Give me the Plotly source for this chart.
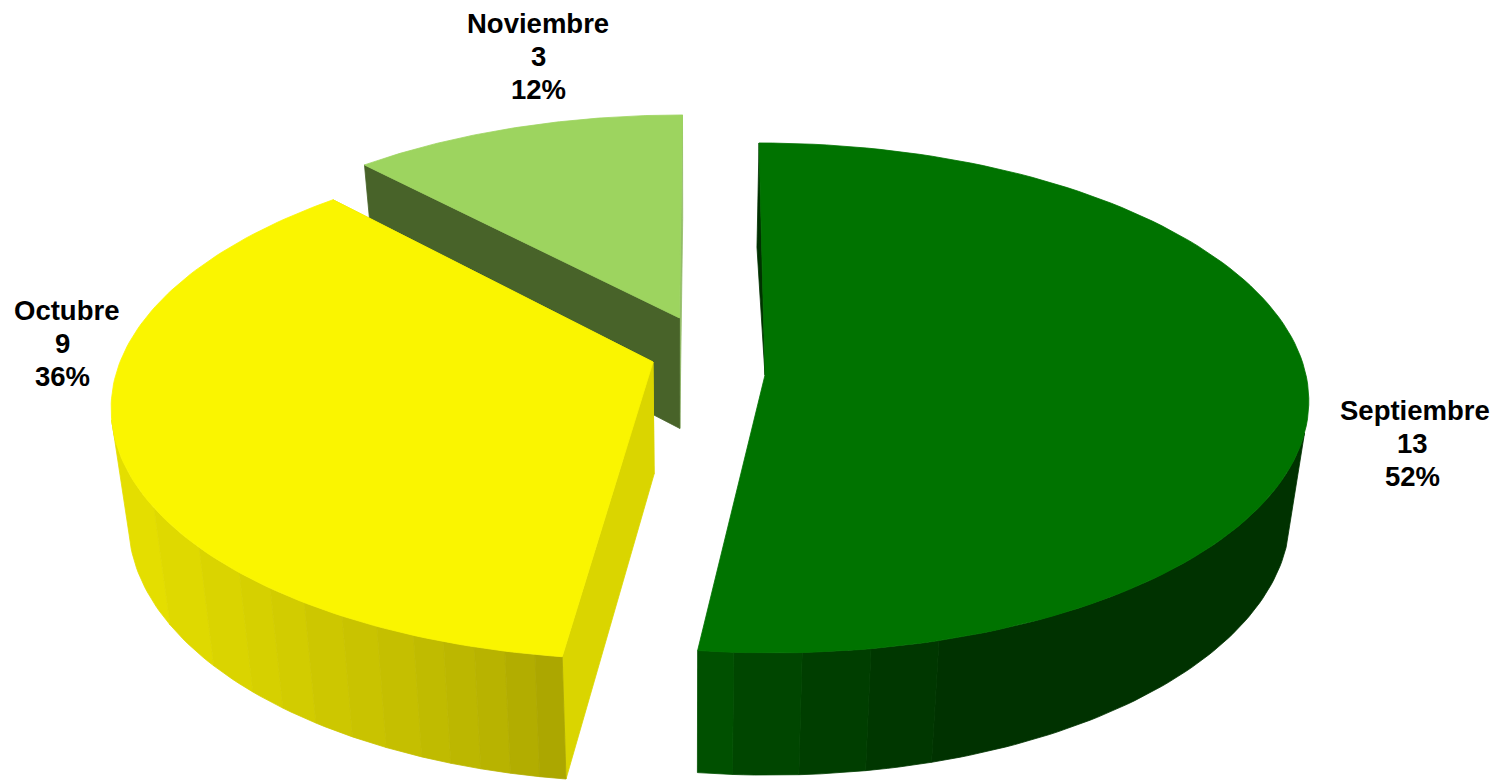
import math
import plotly.graph_objects as go

# data
months = ["Septiembre", "Octubre", "Noviembre"]
counts = [13, 9, 3]
percent_labels = ["52%", "36%", "12%"]

# style
top_colors = ["#007300", "#FAF500", "#9DD45F"]
cut_colors = ["#003200", "#DAD500", "#486329"]
end_cut_colors = ["#003200", "#DAD500", "#93BC68"]
label_xy = [(1415, 443), (66, 343), (538, 56.5)]
value_dx = [-3, -4, 0]
LINE_GAP = 33

# side-wall bands: edges in degrees clockwise from top, and their shade
green_band_deg = [187.2, 183.7, 177.1, 170.4, 163.6, 103.0]
green_band_g = [80, 70, 62, 55, 50]
yellow_band_deg = [187.2, 189.7, 192.5, 195.4, 198.4, 201.4, 205.2, 209.0, 213.4, 217.7, 222.0, 228.4, 237.7, 257.0]
yellow_band_r = [172, 178, 184, 188, 192, 197, 201, 205, 210, 214, 218, 223, 228]

# per-slice view: apex x, apex y, A, shear, B, K
views = [
    (765.0, 375.0, 541.0, 6.5, 252.9, 0.09),
    (653.0, 362.0, 533.0, -9.4, 249.0, 0.163),
    (679.5, 318.0, 510.0, -3.4, 231.0, 0.1376),
]
VX = 690.0
SHRINK = 0.03


def top_pt(i, u, v):
    ax, ay, a, s, b, k = views[i]
    w = 1 - k * v
    return ax + (a * u + s * v) / w, ay + b * v / w


def low(p):
    x, y = p
    return x + (VX - x) * SHRINK, y + 112 + 0.035 * (y - 362)


def rim(i, deg):
    r = math.radians(deg)
    return top_pt(i, math.sin(r), -math.cos(r))


def poly(fig, pts, color):
    xs = [p[0] for p in pts] + [pts[0][0]]
    ys = [p[1] for p in pts] + [pts[0][1]]
    fig.add_trace(go.Scatter(x=xs, y=ys, mode="lines", fill="toself", fillcolor=color,
                             line=dict(width=0.8, color=color), hoverinfo="skip", showlegend=False))


def band(fig, i, d0, d1, color):
    n = max(2, int(abs(d1 - d0)))
    sub = [d0 + (d1 - d0) * q / n for q in range(n + 1)]
    tops = [rim(i, d) for d in sub]
    poly(fig, tops + [low(q) for q in reversed(tops)], color)


fig = go.Figure()
total = sum(counts)
starts = []
acc = 0
for c in counts:
    starts.append(acc * 360 / total)
    acc += c
ends = starts[1:] + [360.0]

for i in [2, 1, 0]:
    s, e = starts[i], ends[i]
    apex = top_pt(i, 0, 0)
    # the two cut faces
    r0 = rim(i, s)
    r1 = rim(i, e)
    if i == 0:
        poly(fig, [apex, r0, low(r0)], cut_colors[i])
    else:
        poly(fig, [apex, r1, low(r1), low(apex)], end_cut_colors[i])
        poly(fig, [apex, r0, low(r0), low(apex)], cut_colors[i])
    # rounded wall, far bands first so each nearer band overlaps the seam
    if i == 0:
        for b in range(len(green_band_g) - 1, -1, -1):
            band(fig, i, green_band_deg[b], green_band_deg[b + 1], "rgb(0,%d,0)" % green_band_g[b])
    elif i == 1:
        for b in range(len(yellow_band_r) - 1, -1, -1):
            r = yellow_band_r[b]
            band(fig, i, yellow_band_deg[b], yellow_band_deg[b + 1], "rgb(%d,%d,0)" % (r, round(r * 0.972)))
    m = 120
    poly(fig, [apex] + [rim(i, s + (e - s) * q / m) for q in range(m + 1)], top_colors[i])

for name, cnt, pct, (lx, ly), dx in zip(months, counts, percent_labels, label_xy, value_dx):
    for k, (txt, off) in enumerate([(name, 0), (str(cnt), dx), (pct, dx)]):
        fig.add_annotation(x=lx + off, y=ly + (k - 1) * LINE_GAP, text=f"<b>{txt}</b>", showarrow=False,
                           xanchor="center", yanchor="middle", align="center",
                           font=dict(family="Liberation Sans", size=27.5, color="#000000"))

fig.update_layout(width=1501, height=780, margin=dict(l=0, r=0, t=0, b=0),
                  paper_bgcolor="white", plot_bgcolor="white", showlegend=False,
                  xaxis=dict(range=[0, 1501], visible=False, fixedrange=True),
                  yaxis=dict(range=[780, 0], visible=False, fixedrange=True))
fig.write_html("out.html", config={"displayModeBar": False},
               post_script="document.body.style.margin='0';")
